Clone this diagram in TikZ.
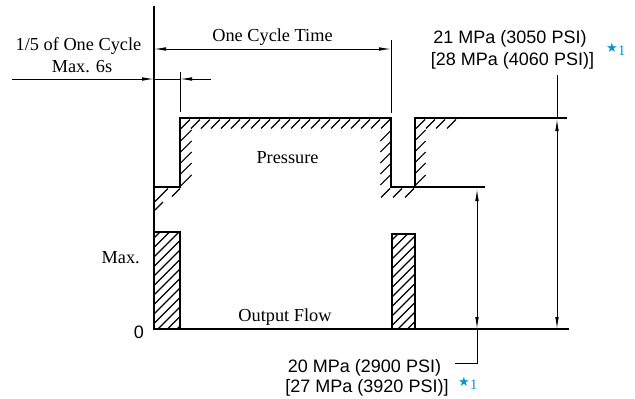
\documentclass[tikz,border=0pt]{standalone}
\usepackage{fontspec}
\setmainfont{Liberation Serif}
\newfontfamily\sanslab{Liberation Sans}
\newfontfamily\symfont{DejaVu Sans}
\usetikzlibrary{arrows.meta}
\definecolor{starblue}{RGB}{0,150,214}
\begin{document}
\begin{tikzpicture}[x=1pt,y=-1pt,
  wave/.style={line width=1.4pt},
  dimline/.style={line width=0.9pt},
  dimarrow/.style={dimline,-{Latex[length=12pt,width=3.6pt]}},
  dimboth/.style={dimline,{Latex[length=12pt,width=3.6pt]}-{Latex[length=12pt,width=3.6pt]}},
  hatch/.style={line width=1.1pt},
  seriflbl/.style={inner sep=0pt, font=\fontsize{18.3}{20}\selectfont},
  sanslbl/.style={inner sep=0pt, font=\sanslab\fontsize{18}{20}\selectfont},
  starlbl/.style={inner sep=0pt, text=starblue},
]
\useasboundingbox (0,0) rectangle (635,399);
\newcommand{\starmark}{{\symfont\fontsize{13}{13}\selectfont\raisebox{3pt}{★}}\kern0.3pt{\fontsize{14.5}{14.5}\selectfont 1}}

% coordinates
\coordinate (axtop) at (154,6);
\coordinate (axbot) at (154,329);
\coordinate (baser) at (569,329);
\coordinate (lowl) at (154,187);
\coordinate (c1a) at (180,187);
\coordinate (c1b) at (180,118);
\coordinate (c1c) at (391,118);
\coordinate (c1d) at (391,187);
\coordinate (lowr) at (485,187);
\coordinate (c2a) at (415,187);
\coordinate (c2b) at (415,118);
\coordinate (highr) at (567,118);

% axis and baseline
\draw[wave] (axtop) -- (axbot) -- (baser);

% pressure waveform
\draw[wave] (lowl) -- (c1a) -- (c1b) -- (c1c) -- (c1d) -- (lowr);
\draw[wave] (c2a) -- (c2b) -- (highr);

% flow bars
\coordinate (b1a) at (154,232); \coordinate (b1b) at (180,329);
\coordinate (b2a) at (392,234); \coordinate (b2b) at (415,329);
\begin{scope}
  \clip (b1a) rectangle (b1b);
  \foreach \c in {238,247.5,...,370} \draw[hatch] (150,\c+4) -- (186,\c-32);
\end{scope}
\begin{scope}
  \clip (b2a) rectangle (b2b);
  \foreach \c in {240,249.5,...,370} \draw[hatch] (388,\c+4) -- (421,\c-29);
\end{scope}
\draw[wave] (b1a) rectangle (b1b);
\draw[wave] (b2a) rectangle (b2b);

% hatching along the pressure line
\foreach \x in {190,200,...,390} \draw[hatch] (\x,119.5) -- ++(-9,9);
\foreach \y in {141,152,163,174,186} \draw[hatch] (180.7,\y) -- ++(11,-11);
\draw[hatch] (180,188.5) -- (172,196.5);
\draw[hatch] (168,188.5) -- (155,201.5);
\draw[hatch] (163,202) -- (155,210);
\foreach \y in {131,142,153,164,175} \draw[hatch] (390.3,\y) -- ++(-10,10);
\draw[hatch] (390,188.5) -- (381,197.5);
\draw[hatch] (402,188.5) -- (393,197.5);
\draw[hatch] (414,188.5) -- (405,197.5);
\foreach \y in {140,151,162,173,185} \draw[hatch] (415.7,\y) -- ++(10,-10);
\foreach \x in {425,435,445,456} \draw[hatch] (\x,119.5) -- ++(-9,9);

% labels
\node[seriflbl, anchor=base] (cyc) at (78.5,50) {1/5 of One Cycle};
\node[seriflbl, anchor=base] (max6) at (82,72.5) {Max. 6s};
\node[seriflbl, anchor=base] (oct) at (272.5,41.5) {One Cycle Time};
\node[seriflbl, anchor=base] (press) at (287.5,163) {Pressure};
\node[seriflbl, anchor=base] (oflow) at (285,321) {Output Flow};
\node[seriflbl, anchor=base east] (maxl) at (140,263) {Max.};
\node[sanslbl, anchor=base] (zero) at (139,338) {0};
\node[sanslbl, anchor=base] (p21) at (510,43) {21 MPa (3050 PSI)};
\node[sanslbl, anchor=base] (p28) at (512.5,65) {[28 MPa (4060 PSI)]};
\node[starlbl, anchor=base west] (st1) at (606,55) {\starmark};
\node[sanslbl, anchor=base] (p20) at (364.5,372) {20 MPa (2900 PSI)};
\node[sanslbl, anchor=base] (p27) at (367,392) {[27 MPa (3920 PSI)]};
\node[starlbl, anchor=base west] (st2) at (458,389) {\starmark};

% one cycle time dimension
\coordinate (octl) at (154,49);
\coordinate (octr) at (391,49);
\coordinate (octe1) at (391,40);
\coordinate (octe2) at (391,113);
\draw[dimboth] (octl) -- (octr);
\draw[dimline] (octe1) -- (octe2);

% 1/5 dimension
\coordinate (fl) at (12,79);
\coordinate (fm) at (154,79);
\coordinate (fr) at (211,79);
\coordinate (ft) at (180,79);
\coordinate (fe1) at (180,72);
\coordinate (fe2) at (180,112);
\draw[dimarrow] (fl) -- (fm);
\draw[dimline] (fm) -- (ft);
\draw[dimarrow] (fr) -- (ft);
\draw[dimline] (fe1) -- (fe2);

% 20 MPa dimension
\coordinate (d1t) at (477,189);
\coordinate (d1b) at (477,329);
\coordinate (d1k) at (477,363);
\coordinate (d1e) at (455,363);
\draw[dimboth] (d1t) -- (d1b);
\draw[dimline] (d1b) -- (d1k) -- (d1e);

% 21 MPa dimension
\coordinate (d2e) at (557,75);
\coordinate (d2t) at (557,119);
\coordinate (d2b) at (557,329);
\draw[dimline] (d2e) -- (d2t);
\draw[dimboth] (d2t) -- (d2b);
\end{tikzpicture}
\end{document}
